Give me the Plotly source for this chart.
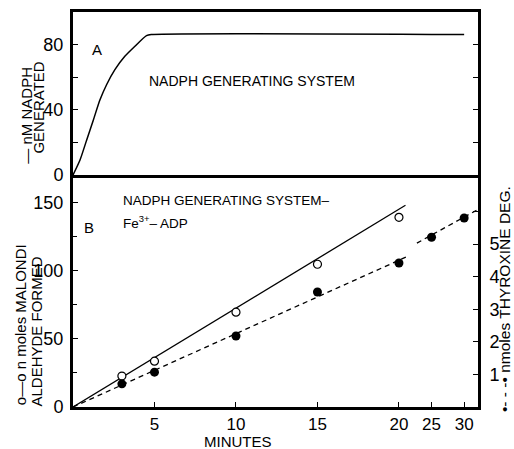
import plotly.graph_objects as go

# ---------------- data ----------------
# Panel A: NADPH generated (nM) vs minutes
nadph_minutes = [0, 0.43, 0.84, 1.25, 1.65, 2.06, 2.57, 3.18, 3.8, 4.51, 4.8, 30]
nadph_values = [0, 9.2, 21.5, 33.8, 46, 55.4, 64.6, 72.8, 79, 85.5, 86.2, 86.2]

# Panel B: malondialdehyde (open circles, left axis)
mda_minutes = [3, 5, 10, 15, 20]
mda_values = [22.7, 33.6, 69.5, 104.6, 139]
mda_fit_minutes = [0, 21]
mda_fit_values = [0, 147.8]

# Panel B: thyroxine degraded (filled circles, right axis)
thy_minutes = [3, 5, 10, 15, 20, 25, 30]
thy_values = [0.71, 1.07, 2.18, 3.53, 4.42, 5.21, 5.80]
thy_fit_minutes = [0, 21.4, None, 22.75, 32.2]
thy_fit_values = [0, 4.63, None, 5.03, 6.07]

x_tick_minutes = [5, 10, 15, 20, 25, 30]
x_tick_labels = ["5", "10", "15", "20", "25", "30"]
left_b_ticks = [0, 50, 100, 150]
right_b_ticks = [1, 2, 3, 4, 5, 6]
right_b_labels = ["1", "2", "3", "4", "5", ""]
top_ticks = [0, 20, 40, 60, 80]
top_labels = ["0", "", "40", "", "80"]


# broken time axis: linear to 20 min, compressed beyond
def axis_pos(t):
    if t is None:
        return None
    return t if t <= 20 else 20 + (t - 20) * 0.4


FONT = "Liberation Sans"
X_RANGE = [0, 24.85]
SPLIT = 0.5873

fig = go.Figure()

fig.add_trace(go.Scatter(
    x=[axis_pos(t) for t in nadph_minutes], y=nadph_values,
    xaxis="x2", yaxis="y3", mode="lines",
    line=dict(color="black", width=1.5, shape="spline", smoothing=0.6),
    hoverinfo="skip"))

fig.add_trace(go.Scatter(
    x=[axis_pos(t) for t in mda_fit_minutes], y=mda_fit_values,
    xaxis="x", yaxis="y", mode="lines",
    line=dict(color="black", width=1.3), hoverinfo="skip"))

fig.add_trace(go.Scatter(
    x=[axis_pos(t) for t in thy_fit_minutes], y=thy_fit_values,
    xaxis="x", yaxis="y2", mode="lines", connectgaps=False,
    line=dict(color="black", width=1.3, dash="5px,4px"), hoverinfo="skip"))

fig.add_trace(go.Scatter(
    x=[axis_pos(t) for t in mda_minutes], y=mda_values,
    xaxis="x", yaxis="y", mode="markers",
    marker=dict(symbol="circle", size=8, color="white",
                line=dict(color="black", width=1.2))))

fig.add_trace(go.Scatter(
    x=[axis_pos(t) for t in thy_minutes], y=thy_values,
    xaxis="x", yaxis="y2", mode="markers",
    marker=dict(symbol="circle", size=9, color="black",
                line=dict(color="black", width=0))))

tickfont = dict(family=FONT, size=18, color="black")
xtickfont = dict(family=FONT, size=17, color="black")

fig.update_layout(
    width=514, height=449,
    margin=dict(l=73, r=36, t=12, b=42, pad=0, autoexpand=False),
    paper_bgcolor="white", plot_bgcolor="white",
    showlegend=False,
    font=dict(family=FONT, color="black"),
    xaxis=dict(
        domain=[0, 1], anchor="y", range=X_RANGE, automargin=False,
        tickmode="array", tickvals=[axis_pos(t) for t in x_tick_minutes],
        ticktext=x_tick_labels, ticks="inside", ticklen=5, tickwidth=1.2,
        tickcolor="black", showline=True, linewidth=3, linecolor="black",
        showgrid=False, zeroline=False, tickfont=xtickfont,
        ticklabelstandoff=0),
    yaxis=dict(
        domain=[0, SPLIT], anchor="x", range=[0, 170], automargin=False,
        tickmode="array", tickvals=left_b_ticks,
        ticks="inside", ticklen=5, tickwidth=1.2, tickcolor="black",
        minor=dict(tickmode="array", tickvals=[25, 75, 125], ticks="inside",
                   ticklen=4, tickwidth=1.2, tickcolor="black"),
        showline=True, linewidth=3, linecolor="black",
        showgrid=False, zeroline=False, tickfont=tickfont,
        ticklabelstandoff=3),
    yaxis2=dict(
        overlaying="y", side="right", anchor="x", range=[0, 7.12],
        automargin=False,
        tickmode="array", tickvals=right_b_ticks, ticktext=right_b_labels,
        ticks="inside", ticklen=5, tickwidth=1.2, tickcolor="black",
        showline=True, linewidth=3, linecolor="black",
        showgrid=False, zeroline=False, tickfont=tickfont,
        ticklabelstandoff=5),
    xaxis2=dict(
        domain=[0, 1], anchor="y3", range=X_RANGE, automargin=False,
        showticklabels=False, ticks="",
        showline=True, mirror=True, linewidth=3, linecolor="black",
        showgrid=False, zeroline=False),
    yaxis3=dict(
        domain=[SPLIT, 1], anchor="x2", range=[0, 100], automargin=False,
        tickmode="array", tickvals=top_ticks, ticktext=top_labels,
        ticks="inside", ticklen=5, tickwidth=1.2, tickcolor="black",
        showline=True, mirror="ticks", linewidth=3, linecolor="black",
        showgrid=False, zeroline=False, tickfont=tickfont,
        ticklabelstandoff=3),
)

ann = []


def text(x, y, s, size, xref, yref, xanchor="center", angle=0):
    ann.append(dict(x=x, y=y, xref=xref, yref=yref, text=s, showarrow=False,
                    xanchor=xanchor, yanchor="middle", textangle=angle,
                    borderpad=0,
                    font=dict(family=FONT, size=size, color="black")))


# panel labels and in-plot text
text(1.47, 76.7, "A", 15, "x2", "y3")
text(4.6, 57.7, "NADPH GENERATING SYSTEM", 14, "x2", "y3", xanchor="left")
text(0.98, 131.2, "B", 15, "x", "y")
text(3.0, 151, "NADPH GENERATING SYSTEM–", 13.5, "x", "y", xanchor="left")
text(3.0, 135.6, "Fe<sup>3+</sup>– ADP", 13.5, "x", "y", xanchor="left")

# axis titles (placed as rotated annotations)
text(-0.117, 0.739, "— nM NADPH", 15, "paper", "paper", angle=-90)
text(-0.085, 0.757, "GENERATED", 15, "paper", "paper", angle=-90)
text(-0.130, 0.208, "o—o n moles MALONDI", 15, "paper", "paper", angle=-90)
text(-0.090, 0.190, "ALDEHYDE FORMED", 15, "paper", "paper", angle=-90)
text(1.064, 0.273, "•- - -• nmoles THYROXINE DEG.", 15.5, "paper", "paper", angle=-90)
text(0.407, -0.0886, "MINUTES", 15, "paper", "paper")

fig.update_layout(annotations=ann)

fig.write_html("out.html",
               config={"displayModeBar": False},
               post_script="document.body.style.margin='0px';")
